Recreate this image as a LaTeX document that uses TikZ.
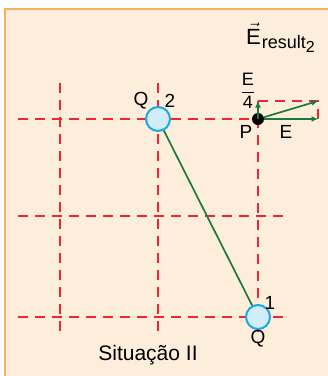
\documentclass[tikz,border=0pt]{standalone}
\usepackage{amsmath}
\usepackage{fontspec}
\setmainfont{Liberation Sans}
\usetikzlibrary{arrows.meta, positioning}
\definecolor{panel}{HTML}{FDEDDB}
\definecolor{panelline}{HTML}{F7B062}
\definecolor{gridred}{HTML}{EE2733}
\definecolor{fieldgreen}{HTML}{1B7A3C}
\definecolor{chargefill}{HTML}{D2EDFA}
\definecolor{chargeline}{HTML}{1CA8E2}
\tikzset{
  gridline/.style={gridred, line width=2pt, dash pattern=on 10pt off 7pt},
  charge/.style={circle, draw=chargeline, fill=chargefill, line width=2pt, minimum size=24pt, inner sep=0pt},
  point/.style={circle, fill=black, minimum size=12pt, inner sep=0pt},
  vec/.style={-{Latex[length=6.5pt,width=6pt]}, fieldgreen, line width=1.7pt},
  link/.style={fieldgreen, line width=1.7pt},
  label/.style={inner sep=0pt, font=\fontsize{19}{21}\selectfont},
  every node/.style={font=\fontsize{19}{21}\selectfont}
}

\begin{document}
\begin{tikzpicture}[x=1pt, y=-1pt]
    \useasboundingbox (0,0) rectangle (328,376);
    \clip (0,0) rectangle (328,376);
    \draw[panelline, fill=panel, line width=1.5pt] (5,9) rectangle (340,390);

    % dashed grid
    \foreach \yy in {216,317} \draw[gridline] (18,\yy) -- (287,\yy);
    \foreach \xx in {60,158} \draw[gridline] (\xx,83) -- (\xx,334);
    \draw[gridline] (18,119) -- (258,119);
    \draw[gridline] (258,101) -- (258,334);
    \draw[gridline] (258,101) -- (318,101) -- (318,119);

    \node[charge] (q2) at (158,119) {};
    \node[charge] (q1) at (258,317) {};
    \node[point] (p) at (258,119) {};
    \coordinate (etip) at (318,119);
    \coordinate (rtip) at (318,101);
    \coordinate (qtip) at (258,101);

    \draw[link] (q2) -- (q1);
    \draw[vec] (p) -- (etip);
    \draw[vec] (p) -- (rtip);
    \draw[vec] (p.center) -- (qtip);

    \node[label] (q2name) at (141,101) {Q};
    \node[label] (q2num) at (170,101) {2};
    \node[label] (q1num) at (270,303) {1};
    \node[label] (q1name) at (258,339) {Q};
    \node[label] (pname) at (246,132) {P};
    \node[label] (ename) at (286,132) {E};
    \node[label, font=\fontsize{18}{20}\selectfont] (quarter) at (248,91) {$\dfrac{\text{E}}{\text{4}}$};
    \node[label, anchor=base west, font=\fontsize{22}{24}\selectfont] (result) at (246,44)
      {$\vec{\text{E}}$\hspace{1pt}\raisebox{-4pt}{\fontsize{18}{18}\selectfont result\raisebox{-4pt}{\fontsize{16}{16}\selectfont 2}}};
    \node[label, font=\fontsize{21}{23}\selectfont] (caption) at (148,355) {Situação II};
\end{tikzpicture}
\end{document}
